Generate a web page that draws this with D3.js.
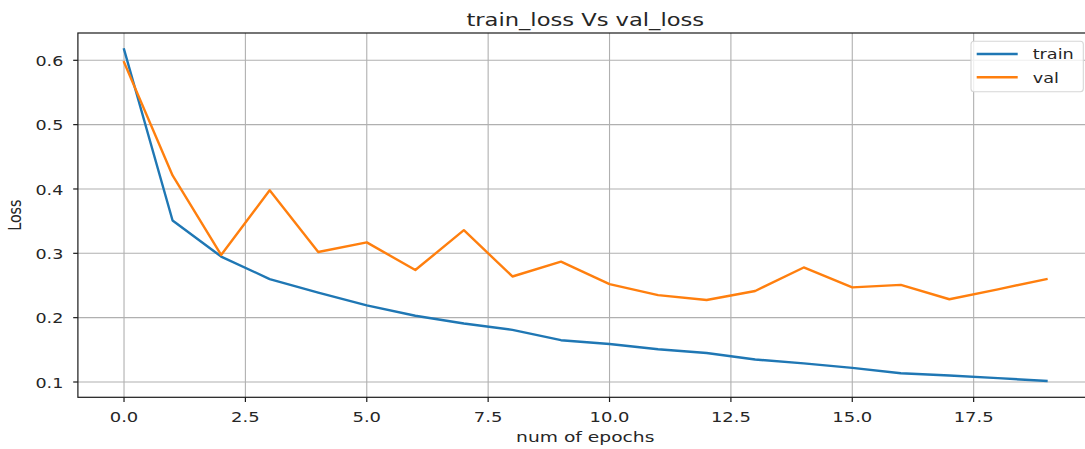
<!DOCTYPE html>
<html>
<head>
<meta charset="utf-8">
<script src="https://cdn.jsdelivr.net/npm/d3@7"></script>
<style>
  html, body { margin: 0; padding: 0; background: #fff; }
  svg { display: block; font-family: "DejaVu Sans", sans-serif; }
</style>
</head>
<body>
<svg id="chart" width="1085" height="449"></svg>
<script>
// Loss per epoch
const epochs = d3.range(0, 20);
const trainLoss = [0.617, 0.351, 0.295, 0.260, 0.239, 0.219, 0.203, 0.191, 0.181, 0.165,
                   0.159, 0.151, 0.145, 0.135, 0.129, 0.122, 0.1135, 0.110, 0.106, 0.1016];
const valLoss   = [0.597, 0.421, 0.2975, 0.398, 0.302, 0.317, 0.274, 0.336, 0.264, 0.287,
                   0.252, 0.235, 0.2275, 0.2415, 0.278, 0.247, 0.251, 0.2286, 0.244, 0.260];
const xTicks = [0, 2.5, 5, 7.5, 10, 12.5, 15, 17.5];
const yTicks = [0.1, 0.2, 0.3, 0.4, 0.5, 0.6];
const seriesNames = ["train", "val"];
const seriesColors = ["#1f77b4", "#ff7f0e"];

const svg = d3.select("#chart");
const tickFont = 14.6;

// axes box
const boxL = 77.9, boxR = 1092.6, boxT = 33, boxB = 397.3;
const x = d3.scaleLinear().domain([-0.95, 19.95]).range([boxL, boxR]);
const y = d3.scaleLinear().domain([0.1, 0.6]).range([382, 60.3]);

// text widened horizontally by sx
function stretchedText(g, px, py, txt, size, anchor, sx, rotate) {
  const t = g.append("g")
    .attr("transform", `translate(${px},${py}) scale(${sx},1)` + (rotate ? ` rotate(${rotate})` : ""));
  t.append("text")
    .attr("x", 0).attr("y", 0)
    .attr("text-anchor", anchor)
    .attr("font-size", size)
    .attr("fill", "#262626")
    .text(txt);
  return t;
}

// grid
const grid = svg.append("g").attr("stroke", "#b0b0b0").attr("stroke-width", 1.1);
xTicks.forEach(v => grid.append("line")
  .attr("x1", x(v)).attr("x2", x(v)).attr("y1", boxT).attr("y2", boxB));
yTicks.forEach(v => grid.append("line")
  .attr("x1", boxL).attr("x2", boxR).attr("y1", y(v)).attr("y2", y(v)));

// series lines
const line = d3.line().x((d, i) => x(epochs[i])).y(d => y(d));
[trainLoss, valLoss].forEach((s, k) => {
  svg.append("path")
    .datum(s)
    .attr("d", line)
    .attr("fill", "none")
    .attr("stroke", seriesColors[k])
    .attr("stroke-width", 2.4)
    .attr("stroke-linejoin", "round")
    .attr("stroke-linecap", "square");
});

// spines
const sp = svg.append("g").attr("stroke", "#1a1a1a").attr("stroke-width", 1.2).attr("fill", "none");
sp.append("rect").attr("x", boxL).attr("y", boxT).attr("width", boxR - boxL).attr("height", boxB - boxT);

// ticks and tick labels
const tk = svg.append("g");
xTicks.forEach(v => {
  tk.append("line").attr("x1", x(v)).attr("x2", x(v)).attr("y1", boxB).attr("y2", boxB + 4.7)
    .attr("stroke", "#1a1a1a").attr("stroke-width", 1.2);
  stretchedText(tk, x(v), 422.3, d3.format(".1f")(v), tickFont, "middle", 1.23);
});
yTicks.forEach(v => {
  tk.append("line").attr("x1", boxL - 4.7).attr("x2", boxL).attr("y1", y(v)).attr("y2", y(v))
    .attr("stroke", "#1a1a1a").attr("stroke-width", 1.2);
  stretchedText(tk, 63.3, y(v) + 5.6, d3.format(".1f")(v), tickFont, "end", 1.2);
});

// titles
stretchedText(svg, (boxL + boxR) / 2, 25.5, "train_loss Vs val_loss", 17.4, "middle", 1.3);
stretchedText(svg, (boxL + boxR) / 2, 441.5, "num of epochs", tickFont, "middle", 1.28);
stretchedText(svg, 20.5, (boxT + boxB) / 2, "Loss", 14.3, "middle", 1.28, -90);

// legend
const lg = svg.append("g");
lg.append("rect")
  .attr("x", 971).attr("y", 41.3).attr("width", 112.3).attr("height", 50.4)
  .attr("rx", 3).attr("ry", 3)
  .attr("fill", "rgba(255,255,255,0.8)")
  .attr("stroke", "#d6d6d6").attr("stroke-width", 1.1);
seriesNames.forEach((name, k) => {
  const ly = 54 + k * 23.3;
  lg.append("line").attr("x1", 976.7).attr("x2", 1017.7).attr("y1", ly).attr("y2", ly)
    .attr("stroke", seriesColors[k]).attr("stroke-width", 2.4);
  stretchedText(lg, 1032.7, ly + 5.3, name, tickFont, "start", 1.21);
});
</script>
</body>
</html>
